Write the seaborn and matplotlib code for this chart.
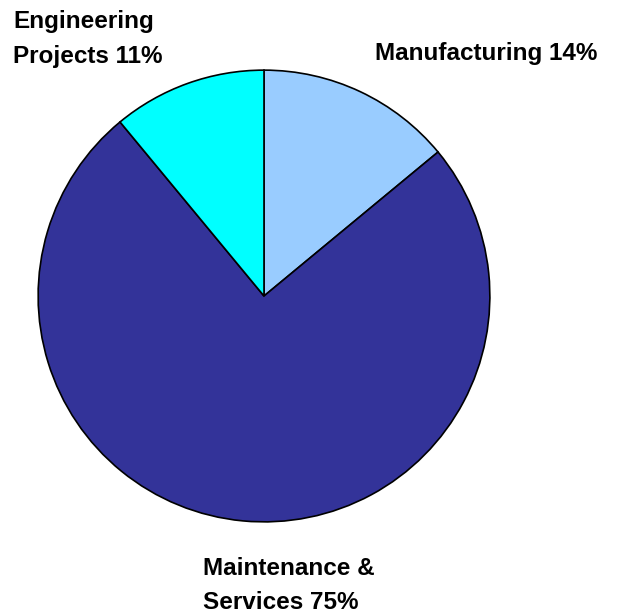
import matplotlib
matplotlib.use("Agg")
import matplotlib.pyplot as plt
import seaborn as sns

categories = ["Manufacturing", "Maintenance &\nServices", "Engineering\nProjects"]
shares = [14, 75, 11]
colors = ["#99CCFF", "#333399", "#00FFFF"]

sns.set_theme(style="white")
plt.rcParams["font.family"] = ["Liberation Sans", "DejaVu Sans"]

W, H = 622, 613
fig = plt.figure(figsize=(W / 100, H / 100), dpi=100)
cx, cy, r = 264, 296, 227
ax = fig.add_axes([(cx - r) / W, (H - cy - r) / H, 2 * r / W, 2 * r / H])

ax.pie(shares, colors=colors, startangle=90, counterclock=False, radius=1,
       wedgeprops=dict(edgecolor="black", linewidth=1.2))
ax.set_xlim(-1.005, 1.005)
ax.set_ylim(-1.005, 1.005)
ax.set_aspect("equal")
ax.axis("off")

def px(x, y):
    return (x - cx) / r, (cy - y) / r

label_pos = [
    (px(376, 52), "left"),
    (px(203, 587), "left"),
    (px(12, 38), "left"),
]
for cat, val, ((x, y), ha) in zip(categories, shares, label_pos):
    ax.text(x, y, f"{cat} {val}%", ha=ha, va="center", fontsize=17.5,
            fontweight="bold", color="black", linespacing=1.65,
            clip_on=False)

fig.savefig("out.png", dpi=100, facecolor="white")
